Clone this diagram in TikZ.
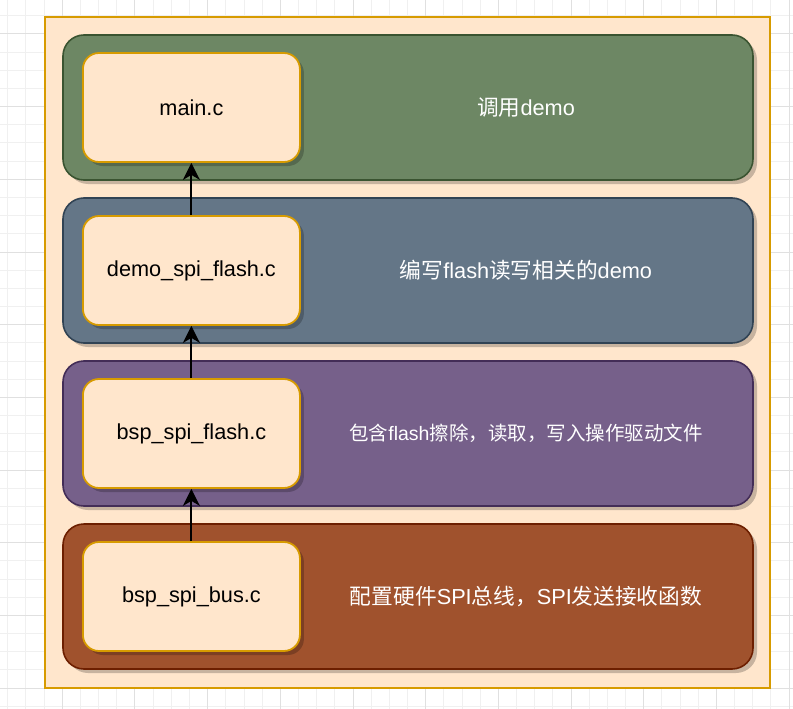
\documentclass[tikz,border=0pt]{standalone}
\usepackage{fontspec}
\setmainfont{Liberation Sans}
\newfontfamily\cjk{Noto Sans CJK SC}
\usetikzlibrary{arrows.meta, positioning, shadows}
\definecolor{greenfill}{HTML}{6D8764}
\definecolor{greenedge}{HTML}{3A5431}
\definecolor{slatefill}{HTML}{647687}
\definecolor{slateedge}{HTML}{314354}
\definecolor{purplefill}{HTML}{76608A}
\definecolor{purpleedge}{HTML}{432D57}
\definecolor{brownfill}{HTML}{A0522D}
\definecolor{brownedge}{HTML}{6D1F00}
\definecolor{filefill}{HTML}{FFE6CC}
\definecolor{fileedge}{HTML}{D79B00}
\definecolor{gridminor}{HTML}{F0F0F0}
\definecolor{gridmajor}{HTML}{E0E0E0}

\begin{document}
\begin{tikzpicture}[x=1pt, y=1pt, node distance=18pt,
    layer/.style={rounded corners=21pt, minimum width=690pt, minimum height=145pt, line width=1.6pt, outer sep=0pt, drop shadow={shadow xshift=4pt, shadow yshift=-4pt, fill=black, opacity=0.22}},
    filebox/.style={draw=fileedge, fill=filefill, rounded corners=16pt, minimum width=217pt, minimum height=109pt, line width=1.8pt, text=black, font=\fontsize{21.7}{26}\selectfont, drop shadow={shadow xshift=4pt, shadow yshift=-4pt, fill=black, opacity=0.22}},
    desc/.style={text=white, font=\fontsize{21.7}{26}\selectfont},
    up/.style={-{Stealth[length=17pt, width=17pt, inset=5pt]}, line width=2pt, black}]
  \useasboundingbox (0,0) rectangle (793,-709);
  \begin{scope}
    \clip (0,0) rectangle (793,-709);
    \foreach \i in {0,...,43} {
      \draw[gridminor, line width=1pt] ({7.8+18.17*\i},0) -- ({7.8+18.17*\i},-709);
      \draw[gridminor, line width=1pt] (0,{-15.8-18.17*\i}) -- (793,{-15.8-18.17*\i});
    }
    \foreach \i in {0,...,10} {
      \draw[gridmajor, line width=1pt] ({62.3+72.68*\i},0) -- ({62.3+72.68*\i},-709);
      \draw[gridmajor, line width=1pt] (0,{-34-72.68*\i}) -- (793,{-34-72.68*\i});
    }
  \end{scope}

  \node[draw=fileedge, fill=filefill, line width=1.8pt, minimum width=725pt, minimum height=671pt] (frame) at (407.5,-352.5) {};

  \node[layer, fill=greenfill, draw=greenedge] (mainlayer) at (408,-107.5) {};
  \node[layer, fill=slatefill, draw=slateedge, below=of mainlayer] (demolayer) {};
  \node[layer, fill=purplefill, draw=purpleedge, below=of demolayer] (flashlayer) {};
  \node[layer, fill=brownfill, draw=brownedge, below=of flashlayer] (buslayer) {};

  \node[filebox, anchor=west] (main) at ([xshift=19pt]mainlayer.west) {main.c};
  \node[filebox, anchor=west] (demo) at ([xshift=19pt]demolayer.west) {demo\_spi\_flash.c};
  \node[filebox, anchor=west] (flash) at ([xshift=19pt]flashlayer.west) {bsp\_spi\_flash.c};
  \node[filebox, anchor=west] (bus) at ([xshift=19pt]buslayer.west) {bsp\_spi\_bus.c};

  \node[desc] (maindesc) at ([xshift=118pt]mainlayer.center) {{\cjk 调用}demo};
  \node[desc] (demodesc) at ([xshift=118pt]demolayer.center) {{\cjk 编写}flash{\cjk 读写相关的}demo};
  \node[desc, font=\fontsize{19.5}{24}\selectfont] (flashdesc) at ([xshift=118pt]flashlayer.center) {{\cjk 包含}flash{\cjk 擦除，读取，写入操作驱动文件}};
  \node[desc] (busdesc) at ([xshift=118pt]buslayer.center) {{\cjk 配置硬件}SPI{\cjk 总线，}SPI{\cjk 发送接收函数}};

  \draw[up] (bus) -- (flash);
  \draw[up] (flash) -- (demo);
  \draw[up] (demo) -- (main);
\end{tikzpicture}
\end{document}
